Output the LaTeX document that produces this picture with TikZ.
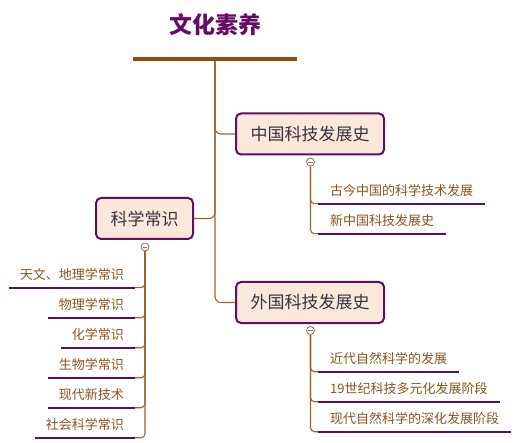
\documentclass[tikz,border=0pt]{standalone}
\usepackage{fontspec}
\setmainfont{Noto Sans CJK SC}
\newfontfamily\cjk{Noto Sans CJK SC}
\definecolor{titlec}{RGB}{102,10,102}
\definecolor{barc}{RGB}{150,75,12}
\definecolor{connc}{RGB}{160,98,45}
\definecolor{boxfill}{RGB}{251,232,219}
\definecolor{boxdraw}{RGB}{94,16,96}
\definecolor{boxtext}{RGB}{52,52,68}
\definecolor{itemtext}{RGB}{140,82,30}
\definecolor{ulc}{RGB}{90,16,96}
\definecolor{circc}{RGB}{140,110,90}
\tikzset{
  topicbox/.style={draw=boxdraw, line width=2pt, fill=boxfill, rounded corners=5pt,
    text=boxtext, font=\cjk\fontsize{17}{20}\selectfont, inner sep=0pt},
  itembox/.style={text=itemtext, font=\cjk\fontsize{13}{15}\selectfont,
    text height=10pt, text depth=3pt, inner xsep=12pt, inner ysep=5pt},
  uline/.style={draw=ulc, line width=2pt},
  conn/.style={draw=connc, line width=1.1pt, rounded corners=6pt},
  collapse/.style={circle, draw=circc, fill=white, line width=0.8pt, minimum size=8pt, inner sep=0pt,
    path picture={\draw[circc, line width=0.7pt] ([xshift=-2.2pt]path picture bounding box.center) -- ([xshift=2.2pt]path picture bounding box.center);}},
}
\begin{document}
\begin{tikzpicture}[x=1pt,y=-1pt]
\useasboundingbox (0,0) rectangle (516,443);
% root
\node (title) [text=titlec, font=\cjk\bfseries\fontsize{23}{26}\selectfont, inner sep=0pt] at (215,25) {文化素养};
\node (bar) [fill=barc, minimum width=164pt, minimum height=4pt, inner sep=0pt] at (215,59) {};
% topics
\node (zg) [topicbox, minimum width=148pt, minimum height=41pt] at (310,134) {中国科技发展史};
\node (wg) [topicbox, minimum width=148pt, minimum height=41pt] at (310,302.5) {外国科技发展史};
\node (kx) [topicbox, minimum width=97pt, minimum height=41pt] at (144.5,218.5) {科学常识};
% main connectors
\draw[conn] (bar.south) |- (zg.west);
\draw[conn] (bar.south) |- (kx.east);
\draw[conn] (bar.south) |- (wg.west);
% collapse circles
\node (zgc) [collapse] at (310.5,162) {};
\node (wgc) [collapse] at (310.5,330.5) {};
\node (kxc) [collapse] at (145,247) {};
% China items
\node (z1) [itembox, anchor=south west] at (318,203.7) {古今中国的科学技术发展};
\node (z2) [itembox, anchor=south west] at (318,233.7) {新中国科技发展史};
% foreign items
\node (w1) [itembox, anchor=south west] at (318,371.7) {近代自然科学的发展};
\node (w2) [itembox, anchor=south west] at (318,401.7) {19世纪科技多元化发展阶段};
\node (w3) [itembox, anchor=south west] at (318,431.7) {现代自然科学的深化发展阶段};
% science items
\node (k1) [itembox, anchor=south east, inner xsep=11pt] at (135,287.7) {天文、地理学常识};
\node (k2) [itembox, anchor=south east, inner xsep=11pt] at (135,317.7) {物理学常识};
\node (k3) [itembox, anchor=south east, inner xsep=11pt] at (135,347.7) {化学常识};
\node (k4) [itembox, anchor=south east, inner xsep=11pt] at (135,377.7) {生物学常识};
\node (k5) [itembox, anchor=south east, inner xsep=11pt] at (135,407.7) {现代新技术};
\node (k6) [itembox, anchor=south east, inner xsep=11pt] at (135,437.7) {社会科学常识};
% sub connectors
\foreach \n in {z1,z2} {\draw[conn, rounded corners=4pt] (zgc.south) |- (\n.south west);}
\foreach \n in {w1,w2,w3} {\draw[conn, rounded corners=4pt] (wgc.south) |- (\n.south west);}
\foreach \n in {k1,k2,k3,k4,k5,k6} {\draw[conn, rounded corners=4pt] (kxc.south) |- (\n.south east);}
% underlines
\foreach \n in {z1,z2,w1,w2,w3,k1,k2,k3,k4,k5,k6} {\draw[uline] (\n.south west) -- (\n.south east);}
\end{tikzpicture}
\end{document}
